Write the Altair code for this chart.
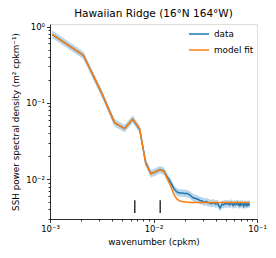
import altair as alt
import numpy as np
import pandas as pd

# wavenumber grid (cpkm): n * dk
dk = 0.00105
n_pts = 81

data_psd = [0.79, 0.42, 0.135, 0.055, 0.046, 0.061, 0.045, 0.0165, 0.0118, 0.0125,
            0.0133, 0.0128, 0.0105, 0.0090, 0.0075, 0.0068, 0.0066, 0.0066, 0.0065, 0.0065,
            0.0063, 0.0060, 0.0057, 0.0056, 0.0055, 0.0054, 0.0052, 0.0052, 0.0050, 0.0050,
            0.0051, 0.0049, 0.0049, 0.0048, 0.0048, 0.0049, 0.0048, 0.0047, 0.0048, 0.0047,
            0.0044, 0.0042, 0.0045, 0.0047, 0.0046, 0.0047, 0.0048, 0.0047, 0.0048, 0.0047,
            0.0048, 0.0046, 0.0047, 0.0049, 0.0047, 0.0045, 0.0048, 0.0047, 0.0046, 0.0048,
            0.0047, 0.0049, 0.0046, 0.0047, 0.0045, 0.0048, 0.0046, 0.0047, 0.0048, 0.0046,
            0.0044, 0.0047, 0.0048, 0.0046, 0.0047, 0.0045, 0.0047, 0.0046, 0.0048, 0.0046,
            0.0047]

model_psd = [0.79, 0.42, 0.135, 0.055, 0.046, 0.061, 0.046, 0.016, 0.0117, 0.0125,
             0.0132, 0.0126, 0.0100, 0.0080, 0.0063, 0.0055, 0.0052, 0.0051, 0.0050, 0.0050,
             0.00495, 0.00494, 0.00493, 0.00493, 0.00492, 0.00492, 0.00492, 0.00492, 0.00492, 0.00492,
             0.00492, 0.00492, 0.00492, 0.00492, 0.00492, 0.00492, 0.00492, 0.00492, 0.00492, 0.00492,
             0.00492, 0.00492, 0.00492, 0.00492, 0.00492, 0.00492, 0.00492, 0.00492, 0.00492, 0.00492,
             0.00492, 0.00492, 0.00492, 0.00492, 0.00492, 0.00492, 0.00492, 0.00492, 0.00492, 0.00492,
             0.00492, 0.00492, 0.00492, 0.00492, 0.00492, 0.00492, 0.00492, 0.00492, 0.00492, 0.00492,
             0.00492, 0.00492, 0.00492, 0.00492, 0.00492, 0.00492, 0.00492, 0.00492, 0.00492, 0.00492,
             0.00492]

ci_factor = 1.12  # multiplicative confidence band

marker_k = [0.0066, 0.0116]
marker_lo = 0.0036
marker_hi = 0.0053

k = (np.arange(1, n_pts + 1) * dk).tolist()

df = pd.DataFrame({"k": k, "data": data_psd, "model fit": model_psd})
df_long = df.melt(id_vars="k", var_name="series", value_name="psd")
df_band = pd.DataFrame({"k": k, "psd": data_psd})
df_mark = pd.DataFrame({"k": marker_k, "lo": [marker_lo] * 2, "hi": [marker_hi] * 2})

x_ticks = [m * 10.0 ** e for e in (-3, -2) for m in range(1, 10)] + [0.1]
y_ticks = [m * 10.0 ** e for e in (-3, -2, -1) for m in range(1, 10)] + [1.0]

major_test = "abs(log(datum.value)/LN10 - round(log(datum.value)/LN10)) < 1e-6"
sup = "{'0':'⁰','1':'¹','2':'²','3':'³'}"
label_expr = (
    f"({major_test}) ? ('10' + (round(log(datum.value)/LN10) < 0 ? '⁻' : '') + "
    f"{sup}[''+abs(round(log(datum.value)/LN10))]) : ''"
)

font = "DejaVu Sans"

x_scale = alt.Scale(type="log", domain=[0.001, 0.1], nice=False)
y_scale = alt.Scale(type="log", domain=[0.00300, 1.08], nice=False)

common = dict(grid=False, labelFontSize=8.5, titleFontSize=8.8, labelFont=font, titleFont=font,
              titleFontWeight="normal", tickColor="black", domainColor="black",
              labelColor="black", titleColor="black", labelPadding=2,
              labelFlush=False, labelOverlap=False, tickWidth=0.8, domainWidth=0.8,
              tickSize={"condition": {"test": major_test, "value": 3.5}, "value": 2})

x_axis = alt.Axis(values=x_ticks, labelExpr=label_expr, title="wavenumber (cpkm)",
                  titlePadding=4, **common)
y_axis = alt.Axis(values=y_ticks, labelExpr=label_expr,
                  title="SSH power spectral density (m² cpkm⁻¹)",
                  titlePadding=5, **common)

band = alt.Chart(df_band).transform_calculate(
    lo=f"datum.psd / {ci_factor}", hi=f"datum.psd * {ci_factor}"
).mark_area(color="#1f77b4", opacity=0.3).encode(
    x=alt.X("k:Q", scale=x_scale, axis=x_axis),
    y=alt.Y("lo:Q", scale=y_scale, axis=y_axis),
    y2="hi:Q",
)

lines = alt.Chart(df_long).mark_line(strokeWidth=1.5).encode(
    x=alt.X("k:Q", scale=x_scale),
    y=alt.Y("psd:Q", scale=y_scale),
    color=alt.Color("series:N",
                    scale=alt.Scale(domain=["data", "model fit"], range=["#1f77b4", "#ff7f0e"]),
                    legend=alt.Legend(title=None, orient="none", legendX=138, legendY=-1,
                                      symbolType="stroke", symbolSize=400, symbolStrokeWidth=1.5,
                                      labelFontSize=8.8, labelFont=font, labelColor="black",
                                      rowPadding=-7, labelOffset=4)),
    order="series:N",
)

marks = alt.Chart(df_mark).mark_rule(color="black", strokeWidth=1.2).encode(
    x=alt.X("k:Q", scale=x_scale),
    y=alt.Y("lo:Q", scale=y_scale),
    y2="hi:Q",
)

chart = alt.layer(band, lines, marks).properties(
    width=207, height=195,
    title=alt.Title("Hawaiian Ridge (16°N 164°W)", fontSize=10.5, font=font,
                    fontWeight="normal", color="black", offset=3, frame="group",
                    anchor="middle"),
    autosize=alt.AutoSizeParams(type="none"),
    padding={"left": 42, "top": 16, "right": 10, "bottom": 30},
).configure_view(stroke="black", strokeWidth=0.8).configure(background="white")

chart.save("out.html", embed_options={"renderer": "svg", "actions": False})
